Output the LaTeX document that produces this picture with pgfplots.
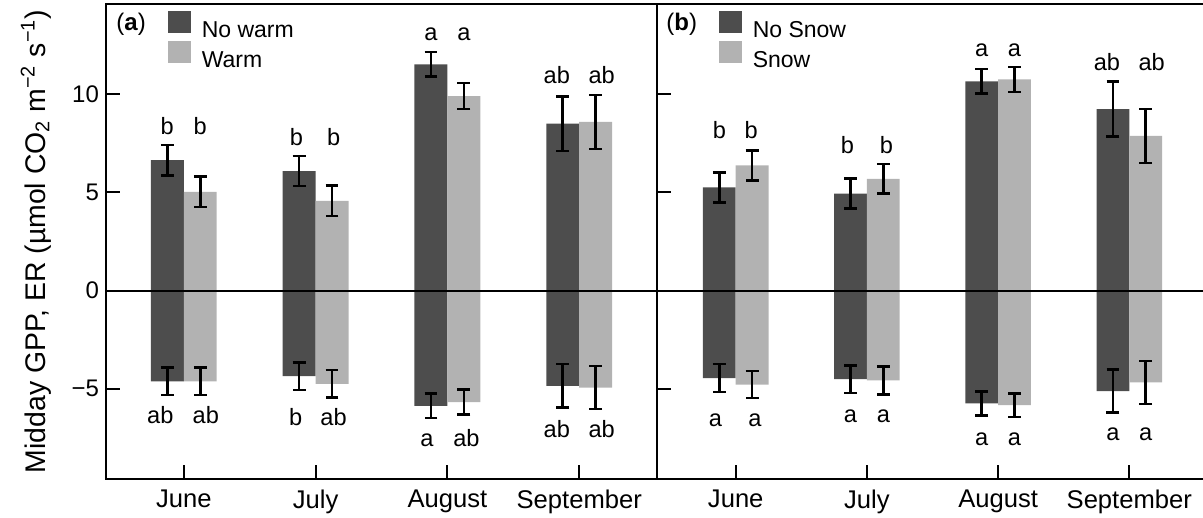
\documentclass[border=0pt]{standalone}
\usepackage{pgfplots}
\pgfplotsset{compat=1.18}
\usepackage{pgfplotstable}
\usepackage{fontspec}
\setmainfont{Liberation Sans}
\definecolor{darkbar}{RGB}{77,77,77}
\definecolor{lightbar}{RGB}{178,178,178}

% Panel (a): warming
\pgfplotstableread{
x y e
-0.125 6.64 0.77
0.875 6.09 0.76
1.875 11.53 0.63
2.875 8.50 1.39
}\aGd
\pgfplotstableread{
x y e
0.125 5.03 0.78
1.125 4.57 0.77
2.125 9.91 0.66
3.125 8.59 1.38
}\aGl
\pgfplotstableread{
x y e
-0.125 -4.63 0.70
0.875 -4.36 0.70
1.875 -5.87 0.63
2.875 -4.85 1.10
}\aEd
\pgfplotstableread{
x y e
0.125 -4.63 0.70
1.125 -4.75 0.70
2.125 -5.68 0.63
3.125 -4.94 1.10
}\aEl
% Panel (b): snow
\pgfplotstableread{
x y e
-0.125 5.26 0.77
0.875 4.94 0.77
1.875 10.66 0.63
2.875 9.25 1.39
}\bGd
\pgfplotstableread{
x y e
0.125 6.38 0.77
1.125 5.69 0.76
2.125 10.76 0.64
3.125 7.88 1.38
}\bGl
\pgfplotstableread{
x y e
-0.125 -4.46 0.71
0.875 -4.51 0.70
1.875 -5.75 0.60
2.875 -5.12 1.10
}\bEd
\pgfplotstableread{
x y e
0.125 -4.79 0.69
1.125 -4.58 0.70
2.125 -5.84 0.61
3.125 -4.68 1.10
}\bEl

\pgfplotsset{
  panel/.style={
    scale only axis, width=275.5pt, height=237.5pt,
    ymin=-9.6, ymax=14.6, ytick={-5,0,5,10},
    xtick={0,1,2,3}, xticklabels={June,July,August,September},
    tick align=inside, xtick pos=bottom, ytick pos=left,
    major tick length=7pt,
    every tick/.style={black, line width=1pt},
    axis line style={line width=1.4pt},
    clip=false,
    /pgf/number format/assume math mode=true,
    xticklabel style={font=\fontsize{12.8}{15}\selectfont, yshift=-1.8pt},
    yticklabel style={font=\fontsize{12}{14}\selectfont},
    legend cell align=left,
    legend image code/.code={\fill[##1] (0pt,-1pt) rectangle (11.2pt,9.8pt);},
    legend style={at={(rel axis cs:0,1)}, anchor=north west, xshift=31.2pt, yshift=-3.5pt,
      draw=none, fill=none, inner sep=0pt, outer sep=0pt, row sep=0.6pt, column sep=5.5pt,
      font=\fontsize{11.5}{13}\selectfont, nodes={inner sep=0pt, outer sep=0pt}},
  },
  mybar/.style={ybar, bar width=0.25, bar shift=0pt, draw=none,
    /pgfplots/error bars/y dir=both, /pgfplots/error bars/y explicit,
    /pgfplots/error bars/error bar style={line width=1.3pt, black},
    /pgfplots/error bars/error mark options={rotate=90, mark size=3.2pt, line width=1.3pt, black}},
}
\tikzset{lett/.style={anchor=base, font=\fontsize{11.8}{14}\selectfont}}

\begin{document}
\begin{tikzpicture}
\begin{axis}[panel, at={(0pt,0pt)}, anchor=south west,
  xmin=-0.59, xmax=3.59, yticklabels={−5,0,5,10},
  ylabel={Midday GPP, ER (µmol CO\textsubscript{2} m\textsuperscript{−2} s\textsuperscript{−1})},
  every axis y label/.style={at={(axis description cs:-0.1107,0.5)}, rotate=90, anchor=base, font=\fontsize{14.2}{17}\selectfont}]
\addplot[fill=darkbar, mybar] table[x=x, y=y, y error=e] {\aGd};
\addlegendentry{No warm}
\addplot[fill=lightbar, mybar] table[x=x, y=y, y error=e] {\aGl};
\addlegendentry{Warm}
\addplot[fill=darkbar, mybar, forget plot] table[x=x, y=y, y error=e] {\aEd};
\addplot[fill=lightbar, mybar, forget plot] table[x=x, y=y, y error=e] {\aEl};
\draw[line width=1pt] (axis cs:-0.59,0) -- (axis cs:3.59,0);
\node[anchor=base west, inner sep=0pt, font=\fontsize{12}{14}\selectfont] at (rel axis cs:0,1) [xshift=5pt, yshift=-13.5pt] {(\textbf{a})};
% letters above
\node[lett] at (axis cs:-0.125,7.93) {b};
\node[lett] at (axis cs:0.125,7.93) {b};
\node[lett, xshift=-1.4pt] at (axis cs:0.875,7.38) {b};
\node[lett, xshift=0.75pt] at (axis cs:1.125,7.38) {b};
\node[lett] at (axis cs:1.875,12.73) {a};
\node[lett] at (axis cs:2.125,12.73) {a};
\node[lett, xshift=-3pt] at (axis cs:2.875,10.56) {ab};
\node[lett, xshift=3pt] at (axis cs:3.125,10.56) {ab};
% letters below
\node[lett, xshift=-3.5pt] at (axis cs:-0.125,-6.75) {ab};
\node[lett, xshift=2.8pt] at (axis cs:0.125,-6.75) {ab};
\node[lett, xshift=-1.75pt] at (axis cs:0.875,-6.87) {b};
\node[lett, xshift=0.75pt] at (axis cs:1.125,-6.87) {ab};
\node[lett, xshift=-2pt] at (axis cs:1.875,-7.94) {a};
\node[lett, xshift=1.3pt] at (axis cs:2.125,-7.94) {ab};
\node[lett, xshift=-3pt] at (axis cs:2.875,-7.47) {ab};
\node[lett, xshift=3pt] at (axis cs:3.125,-7.47) {ab};
\end{axis}

\begin{axis}[panel, at={(275.5pt,0pt)}, anchor=south west,
  xmin=-0.6, xmax=3.6, yticklabels={}]
\addplot[fill=darkbar, mybar] table[x=x, y=y, y error=e] {\bGd};
\addlegendentry{No Snow}
\addplot[fill=lightbar, mybar] table[x=x, y=y, y error=e] {\bGl};
\addlegendentry{Snow}
\addplot[fill=darkbar, mybar, forget plot] table[x=x, y=y, y error=e] {\bEd};
\addplot[fill=lightbar, mybar, forget plot] table[x=x, y=y, y error=e] {\bEl};
\draw[line width=1pt] (axis cs:-0.6,0) -- (axis cs:3.6,0);
\node[anchor=base west, inner sep=0pt, font=\fontsize{12}{14}\selectfont] at (rel axis cs:0,1) [xshift=4.5pt, yshift=-13.5pt] {(\textbf{b})};
\node[lett] at (axis cs:-0.125,7.76) {b};
\node[lett, xshift=-0.5pt] at (axis cs:0.125,7.76) {b};
\node[lett, xshift=-1.6pt] at (axis cs:0.875,7.0) {b};
\node[lett, xshift=1.6pt] at (axis cs:1.125,7.0) {b};
\node[lett] at (axis cs:1.875,11.95) {a};
\node[lett] at (axis cs:2.125,11.95) {a};
\node[lett, xshift=-3pt] at (axis cs:2.875,11.2) {ab};
\node[lett, xshift=3pt] at (axis cs:3.125,11.2) {ab};
\node[lett, xshift=-2pt] at (axis cs:-0.125,-6.92) {a};
\node[lett, xshift=1.4pt] at (axis cs:0.125,-6.92) {a};
\node[lett] at (axis cs:0.875,-6.7) {a};
\node[lett] at (axis cs:1.125,-6.7) {a};
\node[lett] at (axis cs:1.875,-7.89) {a};
\node[lett] at (axis cs:2.125,-7.89) {a};
\node[lett] at (axis cs:2.875,-7.64) {a};
\node[lett] at (axis cs:3.125,-7.64) {a};
\end{axis}
\pgfresetboundingbox
\path[use as bounding box] (-53pt,-19.5pt) rectangle (548.5pt,239.5pt);
\end{tikzpicture}
\end{document}
